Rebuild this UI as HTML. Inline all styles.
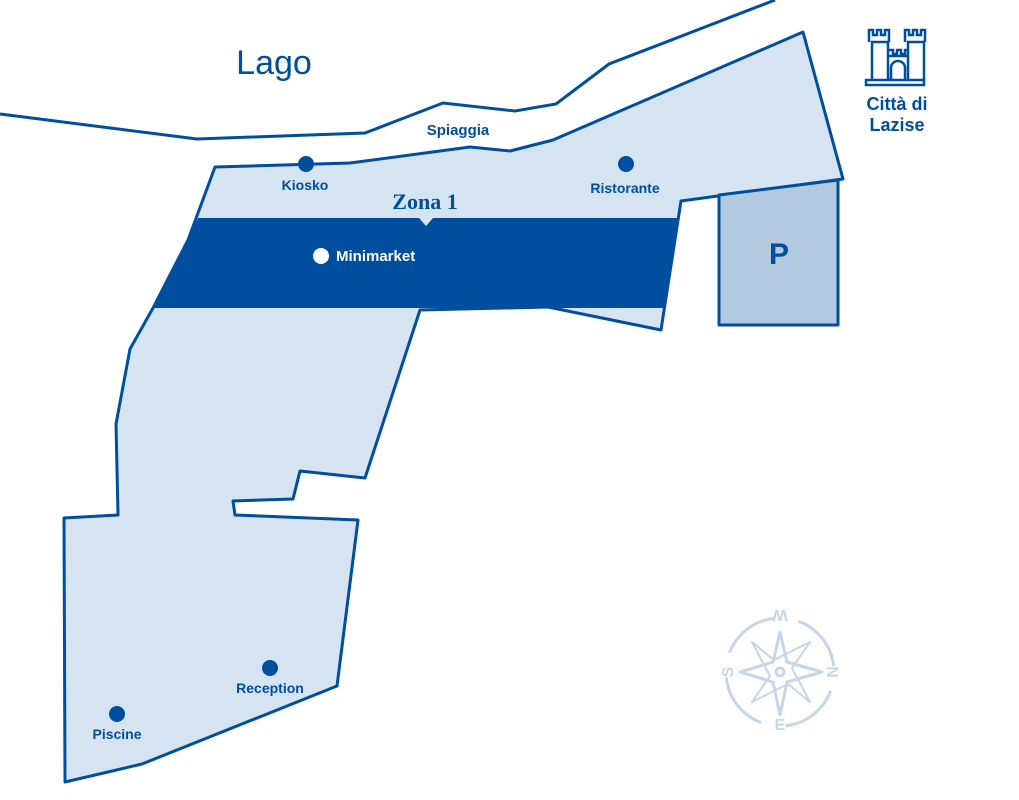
<!DOCTYPE html>
<html><head><meta charset="utf-8"><style>
body{margin:0;background:#fff;}
svg{display:block;font-family:"Liberation Sans",sans-serif;}
</style></head><body>
<svg width="1019" height="800" viewBox="0 0 1019 800">
<polyline points="0,114 197,139 365,133 443,103 515,111 556,104 609,64 775,0" fill="none" stroke="#004e9e" stroke-width="3"/>
<polygon points="215,167 350,163 470,147 510,151 553,140 803,32 843,179 681,201 661,330 548,307 420,310 365,478 300,471 293,499 233,501 235,515 358,520 337,686 142,764 65,782 64,518 118,515 116,424 130,349 153,308 188,240" fill="#d6e3f1" stroke="#004e9e" stroke-width="3" stroke-linejoin="round"/>
<polygon points="198,218 679,218 665,308 153,308 188,240" fill="#004e9e"/>
<polygon points="419,218 433,218 426,226" fill="#d6e3f1"/>
<polygon points="719,195 838,180 838,325 719,325" fill="#b3c9e0" stroke="#004e9e" stroke-width="3" stroke-linejoin="round"/>
<text x="779" y="264" font-size="30" font-weight="bold" fill="#004e9e" text-anchor="middle">P</text>
<text x="274" y="74" font-size="34" fill="#004e9e" text-anchor="middle">Lago</text>
<text x="458" y="135" font-size="15" font-weight="bold" fill="#004e9e" text-anchor="middle">Spiaggia</text>
<text x="425" y="209" font-size="22" font-weight="bold" fill="#004e9e" text-anchor="middle" font-family="Liberation Serif,serif">Zona 1</text>
<circle cx="306" cy="164" r="8" fill="#004e9e"/>
<text x="305" y="190" font-size="14" font-weight="bold" fill="#004e9e" text-anchor="middle">Kiosko</text>
<circle cx="626" cy="164" r="8" fill="#004e9e"/>
<text x="625" y="193" font-size="14" font-weight="bold" fill="#004e9e" text-anchor="middle">Ristorante</text>
<circle cx="321" cy="256" r="8" fill="#fff"/>
<text x="336" y="261" font-size="15" font-weight="bold" fill="#fff">Minimarket</text>
<circle cx="270" cy="668" r="8" fill="#004e9e"/>
<text x="270" y="693" font-size="14" font-weight="bold" fill="#004e9e" text-anchor="middle">Reception</text>
<circle cx="117" cy="714" r="8" fill="#004e9e"/>
<text x="117" y="739" font-size="14" font-weight="bold" fill="#004e9e" text-anchor="middle">Piscine</text>
<g fill="none" stroke="#004e9e" stroke-width="2.5">
<rect x="866" y="80" width="58" height="5"/>
<path d="M872 80V42h16v38M908 80V42h16v38M888 80V56h20v24M869 42v-12h4v5h4v-5h4v5h4v-5h4v12M905 42v-12h4v5h4v-5h4v5h4v-5h4v12M888 56v-6h5v4h4v-4h4v4h4v-4h3v6M891 80v-12a7 7 0 0 1 14 0v12"/>
</g>
<text x="897" y="110" font-size="18" font-weight="bold" fill="#004e9e" text-anchor="middle">Città di</text>
<text x="897" y="131" font-size="18" font-weight="bold" fill="#004e9e" text-anchor="middle">Lazise</text>
<g stroke="#c6d6e9" stroke-width="3" fill="none">
<circle cx="780" cy="672" r="54" stroke-dasharray="60 25" transform="rotate(-70 780 672)"/>
<polygon points="780,632 787,662 822,672 787,682 780,715 773,682 740,672 773,662" stroke-linejoin="round"/>
<polygon points="810,642 792,668 810,702 788,684 752,702 770,676 752,642 774,660" stroke-linejoin="round" stroke-width="2"/>
<circle cx="780" cy="672" r="4"/>
</g>
<g fill="#c6d6e9" font-size="16" font-weight="bold" text-anchor="middle">
<text x="780" y="622" transform="rotate(180 780 616)">W</text>
<text x="833" y="678" transform="rotate(90 833 672)">N</text>
<text x="780" y="730">E</text>
<text x="727" y="678" transform="rotate(-90 727 672)">S</text>
</g>
</svg>
</body></html>
